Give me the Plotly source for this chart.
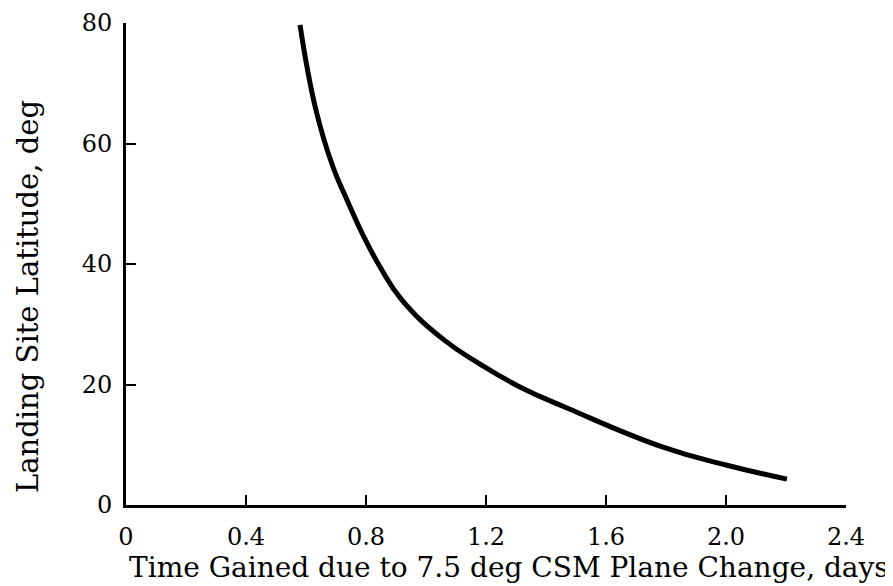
import plotly.graph_objects as go

# Data
time_gained = [0.58, 0.633, 0.69, 0.737, 0.787, 0.847, 0.92, 1.06, 1.18, 1.313, 1.47, 1.79, 2.003, 2.203]
latitude = [79.7, 65.6, 56.1, 50.6, 45.1, 39.5, 34.0, 27.4, 23.4, 19.6, 16.1, 9.6, 6.6, 4.3]

x_ticks = [0, 0.4, 0.8, 1.2, 1.6, 2.0, 2.4]
x_tick_labels = ["0", "0.4", "0.8", "1.2", "1.6", "2.0", "2.4"]
y_ticks = [0, 20, 40, 60, 80]
y_tick_labels = ["0", "20", "40", "60", "80"]

x_title = "Time Gained due to 7.5 deg CSM Plane Change, days"
y_title = "Landing Site Latitude, deg"

font_family = "DejaVu Serif"

fig = go.Figure()
fig.add_trace(go.Scatter(
    x=time_gained, y=latitude, mode="lines",
    line=dict(color="black", width=5, shape="spline", smoothing=1.3),
    showlegend=False, hoverinfo="skip",
))

fig.update_layout(
    width=893, height=586,
    margin=dict(l=118, r=55, t=15, b=89, autoexpand=False),
    paper_bgcolor="white", plot_bgcolor="white",
    font=dict(family=font_family, color="black", size=24),
    xaxis=dict(
        range=[0, 2.4], tickvals=x_ticks, ticktext=x_tick_labels,
        showline=True, linecolor="black", linewidth=3, mirror=False,
        ticks="inside", ticklen=10, tickwidth=2, tickcolor="black",
        showgrid=False, zeroline=False, automargin=False,
        ticklabelstandoff=8,
    ),
    yaxis=dict(
        range=[0, 80], tickvals=y_ticks, ticktext=y_tick_labels,
        showline=True, linecolor="black", linewidth=3, mirror=False,
        ticks="inside", ticklen=10, tickwidth=2, tickcolor="black",
        showgrid=False, zeroline=False, automargin=False,
        ticklabelstandoff=6,
    ),
    annotations=[
        dict(text=x_title, xref="paper", yref="paper", x=(509 - 126) / 720,
             y=-62 / 482, xanchor="center", yanchor="middle", showarrow=False,
             font=dict(size=28)),
        dict(text=y_title, xref="paper", yref="paper", x=-98 / 720, y=(505 - 297) / 482,
             xanchor="center", yanchor="middle", showarrow=False, textangle=-90,
             font=dict(size=29)),
    ],
)

fig.write_html("out.html")
